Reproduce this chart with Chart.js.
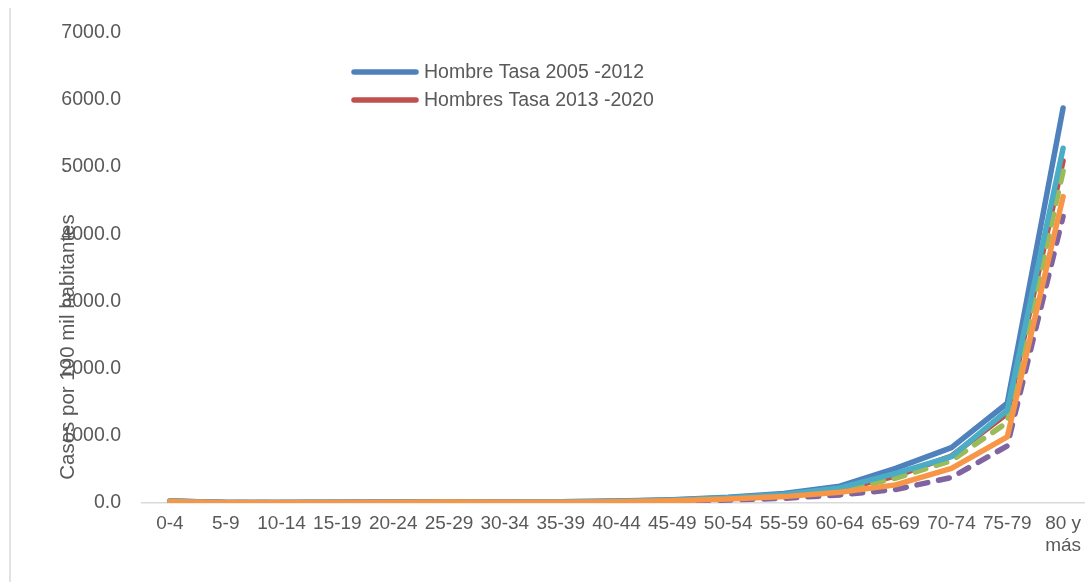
<!DOCTYPE html>
<html>
<head>
<meta charset="utf-8">
<script src="https://cdn.jsdelivr.net/npm/chart.js@4"></script>
<style>
  html, body { margin: 0; padding: 0; background: #fff; overflow: hidden; }
  #wrap { width: 1091px; height: 582px; position: relative; }
</style>
</head>
<body>
<div id="wrap"><canvas id="myChart"></canvas></div>
<script>
// Datos
const categories = ['0-4', '5-9', '10-14', '15-19', '20-24', '25-29', '30-34', '35-39', '40-44',
    '45-49', '50-54', '55-59', '60-64', '65-69', '70-74', '75-79', '80 y más'];

const hombre2005 = [30, 8, 8, 10, 12, 20, 15, 18, 28, 50, 85, 140, 250, 515, 824, 1485, 5880];
const hombres2013 = [25, 6, 6, 8, 10, 18, 12, 15, 22, 40, 70, 115, 200, 400, 700, 1330, 5090];
const serie3 = [25, 6, 6, 8, 10, 18, 12, 15, 22, 40, 65, 105, 185, 370, 630, 1200, 4940];
const serie4 = [20, 4, 4, 5, 7, 12, 8, 10, 15, 28, 45, 70, 120, 200, 380, 850, 4265];
const serie5 = [28, 7, 7, 10, 12, 20, 14, 17, 26, 46, 78, 128, 225, 440, 690, 1380, 5280];
const serie6 = [22, 5, 5, 6, 8, 16, 10, 12, 18, 35, 60, 95, 160, 270, 515, 985, 4560];

const yMax = 7000;
const yStep = 1000;
const yTitle = 'Casos por 100 mil habitantes';
const legendCount = 2; // solo se ven dos entradas en la leyenda

const font = "'Liberation Sans', Arial, sans-serif";
const gray = '#595959';

function serie(label, data, color, order, dashed) {
    return {
        label: label,
        data: data,
        borderColor: color,
        backgroundColor: color,
        borderWidth: 5.5,
        borderDash: dashed ? [11, 11] : [],
        borderCapStyle: 'round',
        borderJoinStyle: 'round',
        pointRadius: 0,
        tension: 0,
        order: order
    };
}

// leyenda y título del eje dibujados a mano (como en Excel, dentro del área)
const extras = {
    id: 'extras',
    beforeDraw(chart) {
        const c = chart.ctx;
        c.save();
        c.strokeStyle = '#d9d9d9';
        c.lineWidth = 1.5;
        c.beginPath();
        c.moveTo(10, 8);
        c.lineTo(10, 582);
        c.stroke();
        c.restore();
    },
    afterDraw(chart) {
        const c = chart.ctx;
        c.save();
        c.font = '19.5px ' + font;
        c.fillStyle = gray;
        c.textBaseline = 'middle';
        chart.data.datasets.slice(0, legendCount).forEach((ds, i) => {
            const y = 72 + i * 28;
            c.strokeStyle = ds.borderColor;
            c.lineWidth = 5.5;
            c.lineCap = 'round';
            c.beginPath();
            c.moveTo(354, y);
            c.lineTo(416, y);
            c.stroke();
            c.textAlign = 'left';
            c.fillText(ds.label, 424, y + 1);
        });
        c.font = '20.5px ' + font;
        c.translate(68, 347);
        c.rotate(-Math.PI / 2);
        c.textAlign = 'center';
        c.fillText(yTitle, 0, 0);
        c.restore();
    }
};

document.addEventListener('DOMContentLoaded', function() {
    const ctx = document.getElementById('myChart');

    new Chart(ctx, {
        type: 'line',
        data: {
            labels: categories,
            datasets: [
                serie('Hombre Tasa 2005 -2012', hombre2005, '#4F81BD', 6, false),
                serie('Hombres Tasa 2013 -2020', hombres2013, '#C0504D', 5, false),
                serie('Serie 3', serie3, '#9BBB59', 4, true),
                serie('Serie 4', serie4, '#8064A2', 3, true),
                serie('Serie 5', serie5, '#4BACC6', 2, false),
                serie('Serie 6', serie6, '#F79646', 1, false)
            ]
        },
        options: {
            responsive: true,
            maintainAspectRatio: false,
            animation: false,
            layout: { padding: { top: 27, left: 0, right: 0, bottom: 0 } },
            plugins: {
                legend: { display: false },
                tooltip: { enabled: false }
            },
            scales: {
                x: {
                    offset: true,
                    grid: { display: false, drawTicks: false },
                    border: { color: '#d9d9d9', width: 1.5 },
                    ticks: {
                        color: gray,
                        font: { family: font, size: 19 },
                        padding: 9,
                        maxRotation: 0,
                        autoSkip: false,
                        callback: function(v) {
                            const l = this.getLabelForValue(v);
                            return l === '80 y más' ? ['80 y', 'más'] : l;
                        }
                    },
                    afterFit: (s) => { s.height = 79; }
                },
                y: {
                    min: 0,
                    max: yMax,
                    grid: { display: false, drawTicks: false },
                    border: { display: false },
                    ticks: {
                        stepSize: yStep,
                        color: gray,
                        font: { family: font, size: 19.5 },
                        padding: 21,
                        callback: (v) => v.toFixed(1)
                    },
                    afterFit: (s) => { s.width = 142; }
                }
            }
        },
        plugins: [extras]
    });
});
</script>
</body>
</html>
